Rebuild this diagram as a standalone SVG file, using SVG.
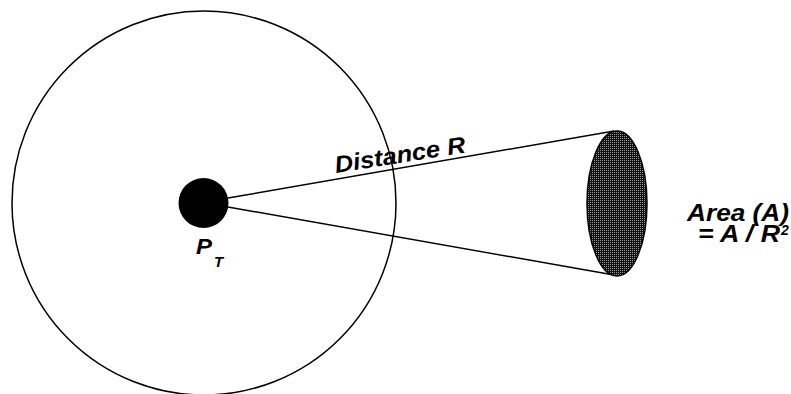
<svg xmlns="http://www.w3.org/2000/svg" width="791" height="394" viewBox="0 0 791 394">
  <style>
    .lbl { font-family: "Liberation Sans", Arial, sans-serif; font-weight: bold; font-style: italic; fill: #000; }
    .edge { stroke: #000; stroke-width: 1.5; fill: none; }
  </style>
  <defs>
    <pattern id="grid" width="2" height="2" patternUnits="userSpaceOnUse">
      <rect width="2" height="2" fill="#111"/>
      <rect width="1" height="1" fill="#9a9a9a"/>
    </pattern>
  </defs>
  <rect width="791" height="394" fill="#fff"/>
  <g id="sphere">
    <circle cx="204" cy="203" r="192" fill="none" stroke="#000" stroke-width="1.5"/>
  </g>
  <g id="connectors">
    <line class="edge" x1="228" y1="198" x2="614" y2="131"/>
    <line class="edge" x1="228" y1="207" x2="614" y2="275"/>
  </g>
  <g id="area">
    <ellipse cx="617" cy="203.5" rx="30" ry="72.5" fill="url(#grid)" stroke="#000" stroke-width="1.5"/>
  </g>
  <g id="source">
    <circle cx="203.5" cy="203" r="25" fill="#000"/>
    <text class="lbl" x="196" y="254" font-size="22" textLength="16" lengthAdjust="spacingAndGlyphs">P</text>
    <text class="lbl" x="214" y="267" font-size="15">T</text>
  </g>
  <g id="distance-label">
    <text class="lbl" font-size="23.5" textLength="132" lengthAdjust="spacingAndGlyphs" transform="translate(336,173) rotate(-9)">Distance R</text>
  </g>
  <g id="area-label">
    <text class="lbl" font-size="23.5"><tspan x="687" y="221" textLength="102" lengthAdjust="spacingAndGlyphs">Area (A)</tspan><tspan x="698" y="242" textLength="82" lengthAdjust="spacingAndGlyphs">= A / R</tspan><tspan font-size="14" dx="1" dy="-7">2</tspan></text>
  </g>
</svg>
